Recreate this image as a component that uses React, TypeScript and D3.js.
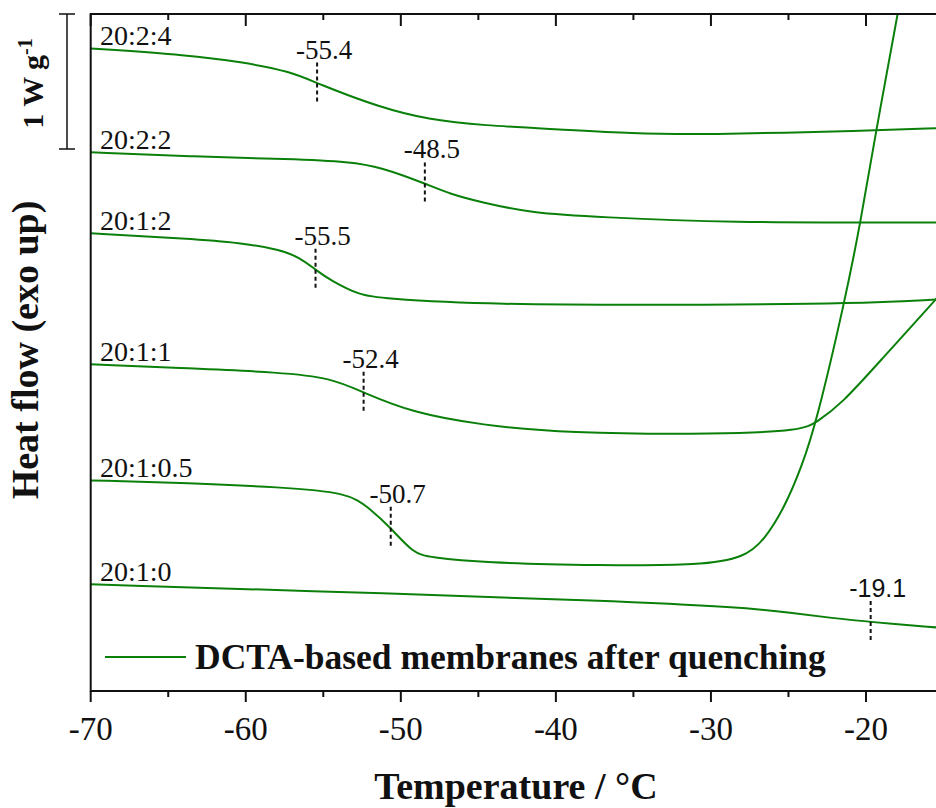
import React from 'react';
import * as d3 from 'd3';

// sample names (DCTA : x : y ratio)
const sampleNames = ['20:2:4', '20:2:2', '20:1:2', '20:1:1', '20:1:0.5', '20:1:0'];

// heat flow traces, [temperature °C, stacked heat flow W/g]
const hf224: [number, number][] = [
    [-70, 4.76], [-63.6, 4.71], [-60.35, 4.66], [-57.1, 4.59], [-55.4, 4.50], [-51.3, 4.32],
    [-48.1, 4.23], [-44.8, 4.19], [-39.7, 4.16], [-35.1, 4.13], [-30.6, 4.12], [-19.8, 4.15], [-15.35, 4.17]
];
const hf222: [number, number][] = [
    [-70, 3.99], [-63.6, 3.96], [-57.1, 3.94], [-53.25, 3.92], [-51.3, 3.88], [-48.45, 3.76],
    [-46.8, 3.68], [-44.8, 3.62], [-41.6, 3.54], [-37.1, 3.51], [-29.3, 3.47], [-15.35, 3.47]
];
const hf212: [number, number][] = [
    [-70, 3.39], [-63.6, 3.35], [-60.35, 3.32], [-57.8, 3.27], [-56.5, 3.21], [-55.5, 3.12],
    [-54.5, 3.04], [-52.6, 2.93], [-51.3, 2.91], [-44.8, 2.86], [-29.3, 2.86], [-20.9, 2.87], [-15.35, 2.90]
];
const hf211: [number, number][] = [
    [-70, 2.42], [-63.6, 2.39], [-57.8, 2.36], [-54.5, 2.32], [-52.4, 2.21], [-49.2, 2.06],
    [-44.8, 1.97], [-39.5, 1.91], [-29.3, 1.90], [-24.15, 1.93], [-23.2, 1.99], [-21.55, 2.13],
    [-19.2, 2.43], [-15.35, 2.92]
];
const hf2105: [number, number][] = [
    [-70, 1.56], [-63.6, 1.54], [-57.8, 1.51], [-53.4, 1.47], [-52.1, 1.36], [-50.65, 1.21],
    [-49.2, 1.02], [-48.1, 0.99], [-44.8, 0.95], [-37.1, 0.93], [-30.6, 0.93], [-27.8, 0.99],
    [-26.55, 1.12], [-25.25, 1.36], [-24.15, 1.66], [-23.2, 1.99], [-21.4, 2.87], [-20.35, 3.47],
    [-19.4, 4.12], [-17.95, 5.02], [-17.7, 5.18]
];
const hf210: [number, number][] = [
    [-70, 0.79], [-50, 0.72], [-37.1, 0.67], [-28.0, 0.62], [-24.8, 0.58], [-22.2, 0.54],
    [-19.6, 0.51], [-15.35, 0.47]
];
const curves = [hf224, hf222, hf212, hf211, hf2105, hf210];

// glass transition marks
const tgLabels = ['-55.4', '-48.5', '-55.5', '-52.4', '-50.7', '-19.1'];
const tgMarkerT = [-55.4, -48.45, -55.5, -52.4, -50.65, -19.7];

const xTicks = d3.range(-70, -19, 5);
const legendLabel = 'DCTA-based membranes after quenching';

const green = '#0a800a';
const serif = '"Liberation Serif", "Times New Roman", serif';
const sans = '"Liberation Sans", Arial, sans-serif';

function valueAt(data: [number, number][], t: number) {
    const i = Math.max(1, Math.min(data.length - 1, d3.bisector((d: [number, number]) => d[0]).left(data, t)));
    const a = data[i - 1], b = data[i];
    const k = (t - a[0]) / (b[0] - a[0]);
    return a[1] + k * (b[1] - a[1]);
}

export default function App() {
    const width = 936, height = 808;
    const left = 90.7, right = 936, top = 14, bottom = 691;

    var x = d3.scaleLinear().domain([-70, -20]).range([left, 866]);
    // 1 W/g = 135 px
    var y = d3.scaleLinear().domain([0, 1]).range([bottom, bottom - 135]);

    var line = d3.line<[number, number]>()
        .x(d => x(d[0]))
        .y(d => y(d[1]))
        .curve(d3.curveBasis);

    const barTop = y.invert(top);
    const legendY = 657;

    return (
        <svg width={width} height={height} style={{position: 'absolute', left: 0, top: 0, background: '#fff'}}>
            <defs>
                <clipPath id="plotClip">
                    <rect x={left} y={top} width={right - left} height={bottom - top} />
                </clipPath>
            </defs>

            <g clipPath="url(#plotClip)">
                {curves.map((c, i) => (
                    <path key={i} d={line(c) || ''} fill="none" stroke={green} strokeWidth={2} />
                ))}
            </g>

            {curves.map((c, i) => (
                <text key={'n' + i} x={100} y={y(c[0][1]) - 3} fontFamily={serif} fontSize={28} fill="#111">
                    {sampleNames[i]}
                </text>
            ))}

            {tgMarkerT.map((t, i) => {
                const cy = y(valueAt(curves[i], t));
                return (
                    <g key={'tg' + i}>
                        <line x1={x(t)} x2={x(t)} y1={cy - 21} y2={cy + 19}
                              stroke="#111" strokeWidth={2} strokeDasharray="4,3" />
                        <text x={x(t) + 7} y={cy - 25} textAnchor="middle"
                              fontFamily={i === 5 ? sans : serif} fontSize={i === 5 ? 25 : 27} fill="#111">
                            {tgLabels[i]}
                        </text>
                    </g>
                );
            })}

            {/* axes */}
            <line x1={left} x2={right} y1={top} y2={top} stroke="#111" strokeWidth={2} />
            <line x1={left} x2={right} y1={bottom} y2={bottom} stroke="#111" strokeWidth={2} />
            <line x1={left} x2={left} y1={top - 1} y2={bottom + 1} stroke="#111" strokeWidth={2} />
            {xTicks.map(t => {
                const major = t % 10 === 0;
                return (
                    <g key={'t' + t}>
                        <line x1={x(t)} x2={x(t)} y1={bottom} y2={bottom + (major ? 11 : 6)} stroke="#111" strokeWidth={2} />
                        <line x1={x(t)} x2={x(t)} y1={top} y2={top + (major ? 12 : 6)} stroke="#111" strokeWidth={2} />
                        {major && (
                            <text x={x(t)} y={740} textAnchor="middle" fontFamily={serif} fontSize={33} fill="#111">
                                {t}
                            </text>
                        )}
                    </g>
                );
            })}

            <text x={516} y={799} textAnchor="middle" fontFamily={serif} fontWeight="bold" fontSize={38} fill="#111">
                Temperature / °C
            </text>
            <text transform={'translate(38,350) rotate(-90)'} textAnchor="middle" fontFamily={serif}
                  fontWeight="bold" fontSize={38} fill="#111">
                Heat flow (exo up)
            </text>

            {/* 1 W/g scale bar */}
            <line x1={67} x2={67} y1={y(barTop)} y2={y(barTop - 1)} stroke="#111" strokeWidth={1.5} />
            <line x1={59} x2={75} y1={y(barTop)} y2={y(barTop)} stroke="#111" strokeWidth={1.5} />
            <line x1={59} x2={75} y1={y(barTop - 1)} y2={y(barTop - 1)} stroke="#111" strokeWidth={1.5} />
            <text transform={'translate(43,' + (y(barTop - 0.5) + 2) + ') rotate(-90)'} textAnchor="middle"
                  fontFamily={serif} fontWeight="bold" fontSize={30} fill="#111">
                1 W g<tspan fontSize={20} dy={-11}>-1</tspan>
            </text>

            {/* legend */}
            <line x1={105} x2={186} y1={legendY} y2={legendY} stroke={green} strokeWidth={2} />
            <text x={195} y={legendY + 12} fontFamily={serif} fontWeight="bold" fontSize={35.5} fill="#111">
                {legendLabel}
            </text>
        </svg>
    );
}
